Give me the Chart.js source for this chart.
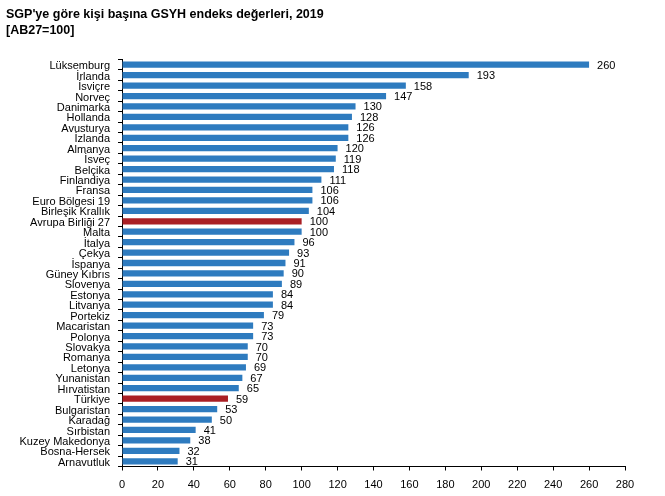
<!DOCTYPE html>
<html lang="tr">
<head>
  <meta charset="UTF-8">
  <title>SGP'ye göre kişi başına GSYH</title>
  <script src="https://cdn.jsdelivr.net/npm/chart.js"></script>
  <style>
    body { margin: 0; background: #fff; }
    #wrap { position: relative; width: 665px; height: 496px; }
    #baslik {
      position: absolute; left: 6px; top: 6px;
      font: bold 12.5px "Liberation Sans", Arial, sans-serif;
      line-height: 16px; color: #000;
    }
    canvas { position: absolute; left: 0; top: 0; }
  </style>
</head>
<body>
<div id="wrap">
  <canvas id="grafik" width="665" height="496"></canvas>
  <div id="baslik">SGP'ye göre kişi başına GSYH endeks değerleri, 2019<br>[AB27=100]</div>
</div>

<script>
  const ulkeler = ['Lüksemburg', 'İrlanda', 'İsviçre', 'Norveç', 'Danimarka', 'Hollanda', 'Avusturya',
    'İzlanda', 'Almanya', 'İsveç', 'Belçika', 'Finlandiya', 'Fransa', 'Euro Bölgesi 19',
    'Birleşik Krallık', 'Avrupa Birliği 27', 'Malta', 'İtalya', 'Çekya', 'İspanya', 'Güney Kıbrıs',
    'Slovenya', 'Estonya', 'Litvanya', 'Portekiz', 'Macaristan', 'Polonya', 'Slovakya', 'Romanya',
    'Letonya', 'Yunanistan', 'Hırvatistan', 'Türkiye', 'Bulgaristan', 'Karadağ', 'Sırbistan',
    'Kuzey Makedonya', 'Bosna-Hersek', 'Arnavutluk'];
  const degerler = [260, 193, 158, 147, 130, 128, 126, 126, 120, 119, 118, 111, 106, 106, 104, 100,
    100, 96, 93, 91, 90, 89, 84, 84, 79, 73, 73, 70, 70, 69, 67, 65, 59, 53, 50, 41, 38, 32, 31];
  const vurgulu = ['Avrupa Birliği 27', 'Türkiye'];
  const xMin = 0, xMax = 280, xAdim = 20;

  const mavi = '#2E7BBF';
  const kirmizi = '#AA1F24';
  const yazi = '11px "Liberation Sans", Arial, sans-serif';

  // bar sonuna değer yaz
  const degerEtiketi = {
    id: 'degerEtiketi',
    afterDatasetsDraw(chart) {
      const ctx = chart.ctx;
      ctx.save();
      ctx.font = yazi;
      ctx.fillStyle = '#000';
      ctx.textBaseline = 'middle';
      ctx.textAlign = 'left';
      chart.getDatasetMeta(0).data.forEach((bar, i) => {
        ctx.fillText(degerler[i], bar.x + 8, bar.y + 1);
      });
      ctx.restore();
    }
  };

  Chart.defaults.font.family = '"Liberation Sans", Arial, sans-serif';
  Chart.defaults.font.size = 11;
  Chart.defaults.color = '#000';

  new Chart(document.getElementById('grafik'), {
    type: 'bar',
    data: {
      labels: ulkeler,
      datasets: [{
        data: degerler,
        backgroundColor: ulkeler.map(u => vurgulu.includes(u) ? kirmizi : mavi),
        barPercentage: 0.6,
        categoryPercentage: 1
      }]
    },
    options: {
      indexAxis: 'y',
      responsive: false,
      animation: false,
      layout: { padding: { top: 59.5, right: 40, left: 0, bottom: 0 } },
      plugins: { legend: { display: false }, tooltip: { enabled: false } },
      scales: {
        x: {
          min: xMin,
          max: xMax,
          afterFit(s) { s.height = 29.5; },
          ticks: { stepSize: xAdim, padding: 8, maxRotation: 0 },
          grid: { drawOnChartArea: false, tickLength: 4, color: '#000' },
          border: { color: '#000' }
        },
        y: {
          afterFit(s) { s.width = 122; },
          ticks: { padding: 8, autoSkip: false, labelOffset: 1.5 },
          grid: { drawOnChartArea: false, tickLength: 4, color: '#000' },
          border: { color: '#000' }
        }
      }
    },
    plugins: [degerEtiketi]
  });
</script>
</body>
</html>
